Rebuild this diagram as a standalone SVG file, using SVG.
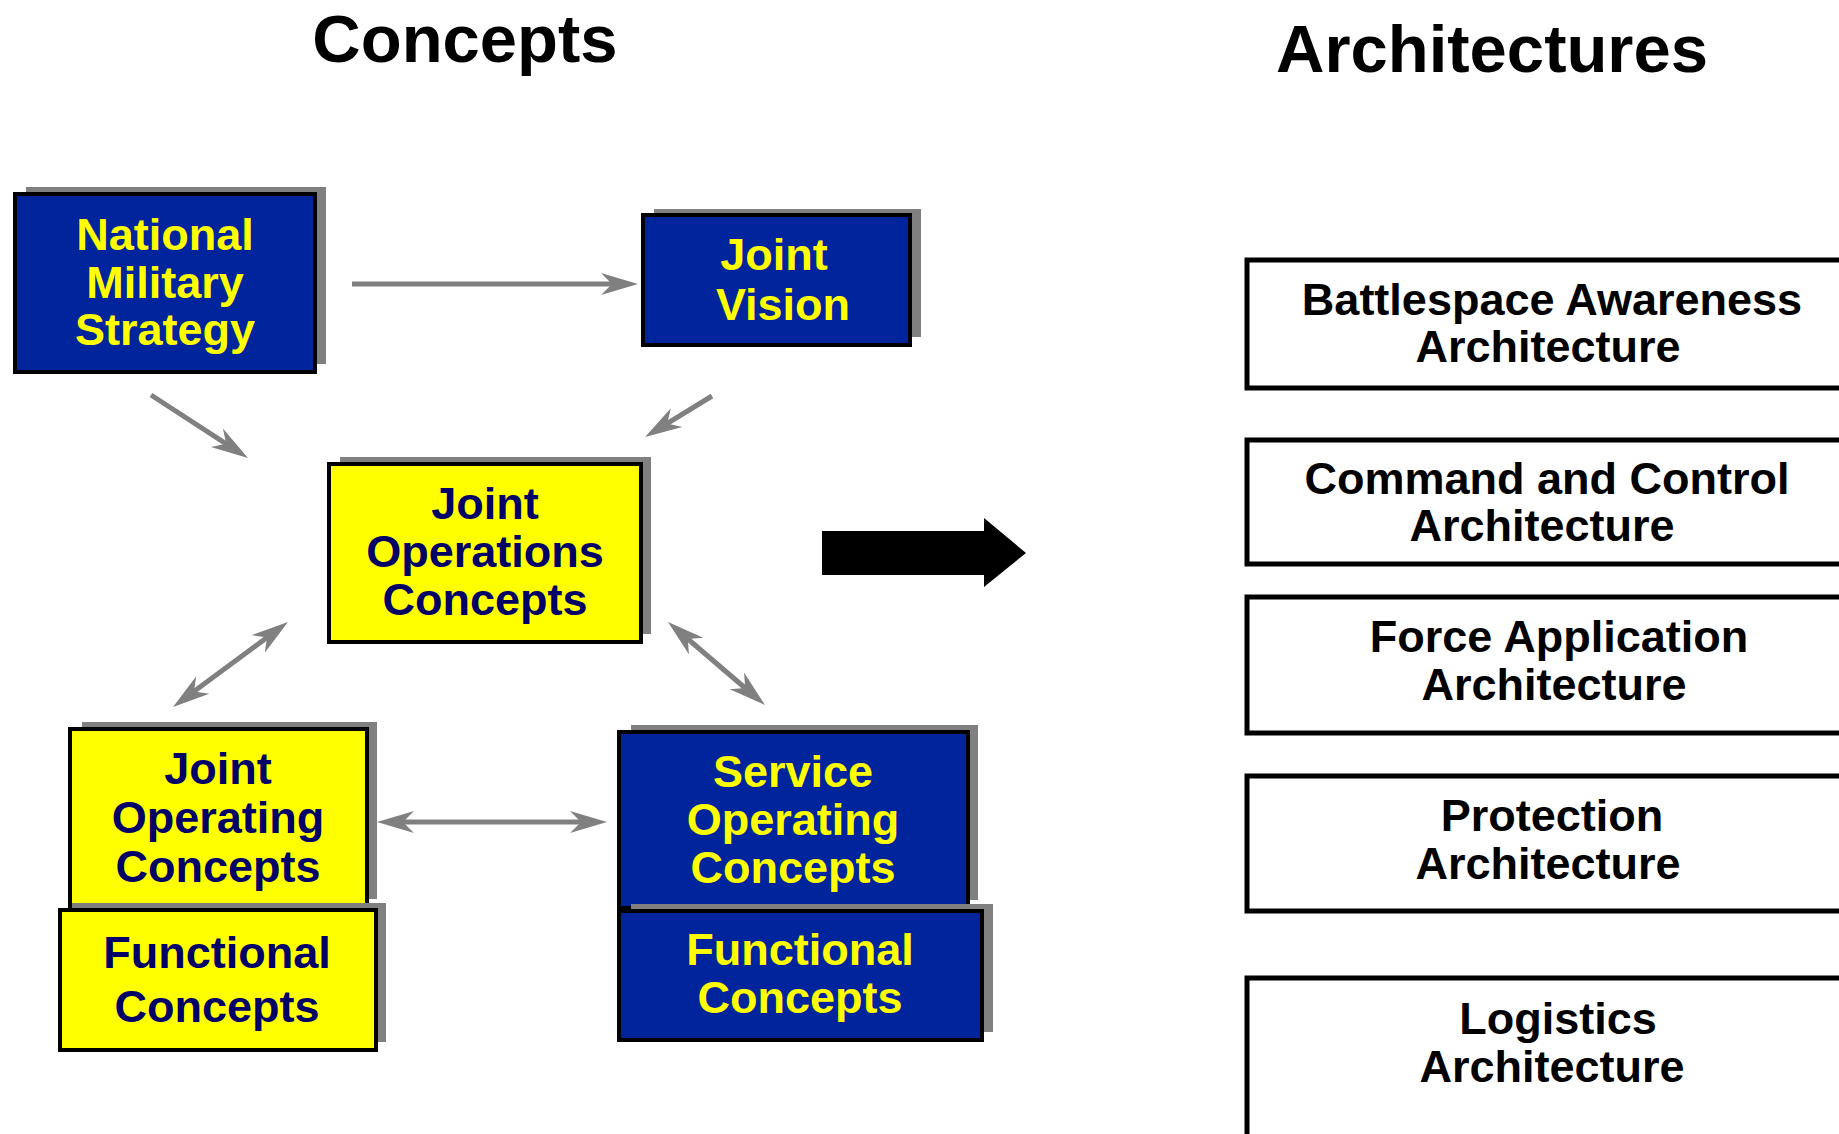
<svg xmlns="http://www.w3.org/2000/svg" width="1839" height="1134" viewBox="0 0 1839 1134">
<style>
text{font-family:"Liberation Sans",Arial,sans-serif;font-weight:bold;text-anchor:middle}
.title{font-size:67px;fill:#000}
.shadow{fill:#808080}
.blue{fill:#00249B;stroke:#000;stroke-width:4}
.yel{fill:#FFFF00;stroke:#000;stroke-width:4}
.tb{fill:#FFFF00;font-size:45px}
.ty{fill:#000066;font-size:45px}
.arch{fill:#fff;stroke:#000;stroke-width:5}
.ta{fill:#000;font-size:45px}
.conn{stroke:#808080;stroke-width:5;fill:none}
</style>
<defs>
<marker id="ah" markerUnits="userSpaceOnUse" markerWidth="40" markerHeight="26" viewBox="0 -13 40 26" refX="17" refY="0" orient="auto-start-reverse">
<path d="M37,0 L0,-11 L11,0 L0,11 Z" fill="#808080"/>
</marker>
</defs>
<text class="title" x="465" y="62">Concepts</text>
<text class="title" x="1492" y="72">Architectures</text>

<g id="connectors">
<line class="conn" x1="352" y1="284" x2="618" y2="284" marker-end="url(#ah)"/>
<line class="conn" x1="151" y1="395" x2="231.2" y2="447.1" marker-end="url(#ah)"/>
<line class="conn" x1="712" y1="396" x2="662.1" y2="426.6" marker-end="url(#ah)"/>
<line class="conn" x1="271.9" y1="633.9" x2="189.1" y2="695.1" marker-start="url(#ah)" marker-end="url(#ah)"/>
<line class="conn" x1="683.2" y1="635" x2="749.8" y2="692" marker-start="url(#ah)" marker-end="url(#ah)"/>
<line class="conn" x1="397" y1="822" x2="587" y2="822" marker-start="url(#ah)" marker-end="url(#ah)"/>
<path id="bigarrow" d="M822,531 L984,531 L984,518 L1026,553 L984,587 L984,575 L822,575 Z" fill="#000"/>
</g>

<g id="nms">
<rect class="shadow" x="26" y="187" width="300" height="177"/>
<rect class="blue" x="15" y="194" width="300" height="178"/>
<text class="tb" x="165" y="250">National</text>
<text class="tb" x="165" y="298">Military</text>
<text class="tb" x="165" y="345">Strategy</text>
</g>

<g id="jv">
<rect class="shadow" x="654" y="209" width="267" height="128"/>
<rect class="blue" x="643" y="215" width="267" height="130"/>
<text class="tb" x="774" y="270">Joint</text>
<text class="tb" x="783" y="320">Vision</text>
</g>

<g id="joc">
<rect class="shadow" x="340" y="457" width="311" height="177"/>
<rect class="yel" x="329" y="464" width="312" height="178"/>
<text class="ty" x="485" y="519">Joint</text>
<text class="ty" x="485" y="567">Operations</text>
<text class="ty" x="485" y="615">Concepts</text>
</g>

<g id="jopc">
<rect class="shadow" x="82" y="722" width="295" height="177"/>
<rect class="yel" x="70" y="729" width="297" height="178"/>
<text class="ty" x="218" y="784">Joint</text>
<text class="ty" x="218" y="833">Operating</text>
<text class="ty" x="218" y="882">Concepts</text>
</g>

<g id="fc-left">
<rect class="shadow" x="72" y="903" width="314" height="139"/>
<rect class="yel" x="60" y="910" width="316" height="140"/>
<text class="ty" x="217" y="968">Functional</text>
<text class="ty" x="217" y="1022">Concepts</text>
</g>

<g id="soc">
<rect class="shadow" x="631" y="725" width="347" height="175"/>
<rect class="blue" x="619" y="732" width="349" height="176"/>
<text class="tb" x="793" y="787">Service</text>
<text class="tb" x="793" y="835">Operating</text>
<text class="tb" x="793" y="883">Concepts</text>
</g>

<g id="fc-right">
<rect class="shadow" x="631" y="904" width="362" height="128"/>
<rect class="blue" x="619" y="911" width="363" height="129"/>
<text class="tb" x="800" y="965">Functional</text>
<text class="tb" x="800" y="1013">Concepts</text>
</g>

<g id="arch-ba">
<rect class="arch" x="1247" y="260" width="700" height="128"/>
<text class="ta" x="1552" y="315">Battlespace Awareness</text>
<text class="ta" x="1548" y="362">Architecture</text>
</g>
<g id="arch-c2">
<rect class="arch" x="1247" y="440" width="700" height="124"/>
<text class="ta" x="1547" y="494">Command and Control</text>
<text class="ta" x="1542" y="541">Architecture</text>
</g>
<g id="arch-fa">
<rect class="arch" x="1247" y="597" width="700" height="136"/>
<text class="ta" x="1559" y="652">Force Application</text>
<text class="ta" x="1554" y="700">Architecture</text>
</g>
<g id="arch-pr">
<rect class="arch" x="1247" y="776" width="700" height="135"/>
<text class="ta" x="1552" y="831">Protection</text>
<text class="ta" x="1548" y="879">Architecture</text>
</g>
<g id="arch-lo">
<rect class="arch" x="1247" y="978" width="700" height="200"/>
<text class="ta" x="1558" y="1034">Logistics</text>
<text class="ta" x="1552" y="1082">Architecture</text>
</g>
</svg>
